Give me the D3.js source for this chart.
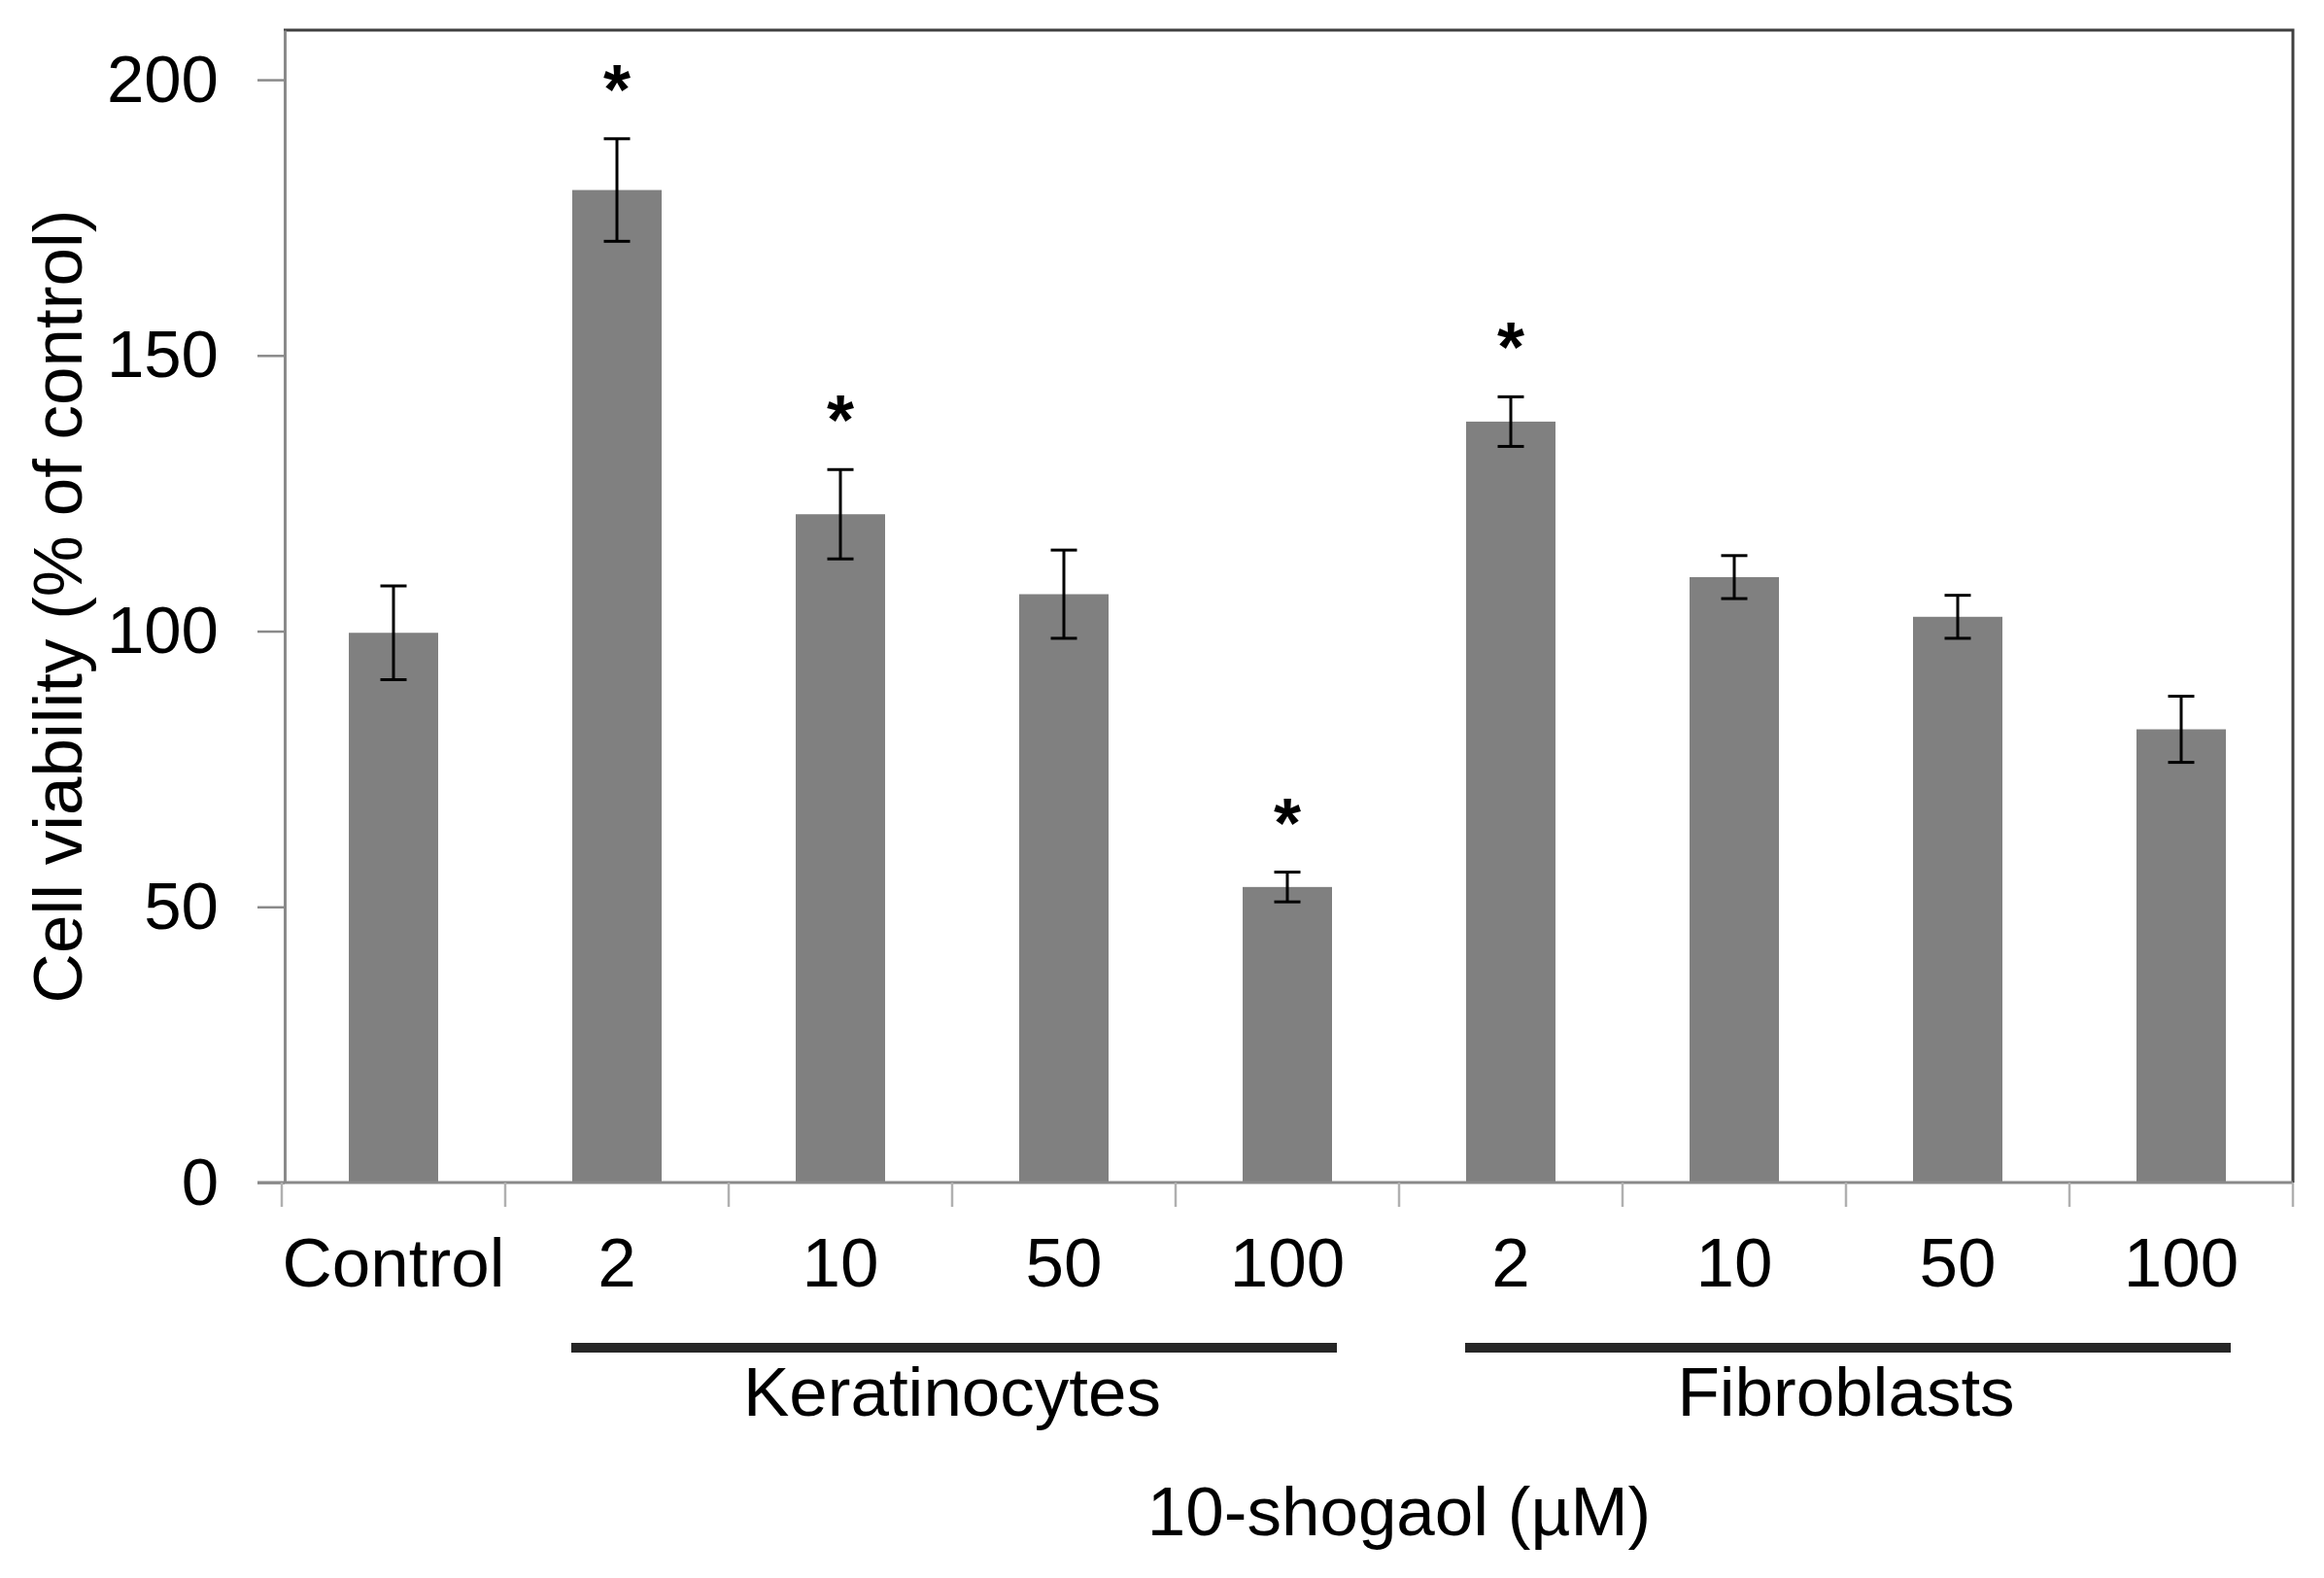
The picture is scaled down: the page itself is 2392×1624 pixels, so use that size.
<!DOCTYPE html>
<html>
<head>
<meta charset="utf-8">
<script src="https://cdn.jsdelivr.net/npm/d3@7"></script>
<style>
  body { margin: 0; background: #fff; }
  svg { display: block; font-family: 'Liberation Sans', Arial, sans-serif; }
</style>
</head>
<body>
<svg id="chart"></svg>
<script>
const colours = {
  bar: '#808080',
  axis: '#8a8a8a',
  frame: '#404040',
  error: '#000000',
  bracket: '#262626',
  text: '#000000',
};

// data
const categories = ['Control', '2', '10', '50', '100', '2', '10', '50', '100'];
const viability = [99.7, 180, 121.2, 106.7, 53.6, 138, 109.8, 102.6, 82.2];
const stdErr = [8.5, 9.3, 8.1, 8.0, 2.7, 4.5, 3.9, 3.9, 6.0];
const significant = [false, true, true, false, true, true, false, false, false];
const groupNames = ['Keratinocytes', 'Fibroblasts'];
const groupFirst = [1, 5];
const groupLast = [4, 8];
const yTicks = [0, 50, 100, 150, 200];

const width = 2392;
const height = 1624;
const margin = { left: 290, right: 32, top: 31, bottom: 407 };

const sel = d3.select('#chart').attr('width', width).attr('height', height);

const xScale = d3
  .scaleBand()
  .domain(d3.range(categories.length))
  .range([margin.left, width - margin.right]);
const yScale = d3
  .scaleLinear()
  .domain([0, 209])
  .range([height - margin.bottom, margin.top]);

const bw = xScale.bandwidth();
const barW = bw * 0.4;
const capW = 27;
const y0 = yScale(0);
const yTop = yScale.range()[1];
const xEnd = xScale.range()[1];

// frame: top and right sides dark
sel.append('path')
  .attr('d', `M${margin.left + 2},${yTop}H${xEnd}V${y0}`)
  .attr('fill', 'none')
  .attr('stroke', colours.frame)
  .attr('stroke-width', 3);

// bars
sel.append('g')
  .selectAll('rect')
  .data(viability)
  .join('rect')
  .attr('x', (d, i) => xScale(i) + (bw - barW) / 2)
  .attr('width', barW)
  .attr('y', d => yScale(d))
  .attr('height', d => y0 - yScale(d))
  .attr('fill', colours.bar);

// y axis
const yAxis = sel.append('g')
  .attr('transform', `translate(${margin.left + 3},0)`)
  .call(d3.axisLeft(yScale).tickValues(yTicks).tickSize(28).tickPadding(40).tickSizeOuter(0));
yAxis.select('.domain').attr('stroke', colours.axis).attr('stroke-width', 3);
yAxis.selectAll('.tick line').attr('stroke', colours.axis).attr('stroke-width', 2.5);
yAxis.selectAll('.tick text')
  .attr('font-size', 69)
  .attr('fill', colours.text)
  .attr('font-family', "'Liberation Sans', Arial, sans-serif");

// x axis line and category boundary ticks
const xg = sel.append('g');
xg.append('line')
  .attr('x1', margin.left - 25)
  .attr('x2', xEnd)
  .attr('y1', y0)
  .attr('y2', y0)
  .attr('stroke', colours.axis)
  .attr('stroke-width', 3);
xg.selectAll('.xtick')
  .data(d3.range(categories.length + 1))
  .join('line')
  .classed('xtick', true)
  .attr('x1', i => (i < categories.length ? xScale(i) : xEnd))
  .attr('x2', i => (i < categories.length ? xScale(i) : xEnd))
  .attr('y1', y0)
  .attr('y2', y0 + 25)
  .attr('stroke', '#b0b0b0')
  .attr('stroke-width', 2.5);

xg.selectAll('.xlabel')
  .data(categories)
  .join('text')
  .classed('xlabel', true)
  .attr('x', (d, i) => xScale(i) + bw / 2)
  .attr('y', y0 + 107)
  .attr('text-anchor', 'middle')
  .attr('font-size', 71)
  .attr('fill', colours.text)
  .text(d => d);

// error bars
const errG = sel.append('g')
  .selectAll('g')
  .data(viability.map((v, i) => ({ v, e: stdErr[i], i })))
  .join('g')
  .attr('stroke', colours.error)
  .attr('stroke-width', 3);
errG.append('line')
  .attr('x1', d => xScale(d.i) + bw / 2)
  .attr('x2', d => xScale(d.i) + bw / 2)
  .attr('y1', d => yScale(d.v + d.e))
  .attr('y2', d => yScale(d.v - d.e));
errG.append('line')
  .attr('x1', d => xScale(d.i) + bw / 2 - capW / 2)
  .attr('x2', d => xScale(d.i) + bw / 2 + capW / 2)
  .attr('y1', d => yScale(d.v + d.e))
  .attr('y2', d => yScale(d.v + d.e));
errG.append('line')
  .attr('x1', d => xScale(d.i) + bw / 2 - capW / 2)
  .attr('x2', d => xScale(d.i) + bw / 2 + capW / 2)
  .attr('y1', d => yScale(d.v - d.e))
  .attr('y2', d => yScale(d.v - d.e));

// significance stars
sel.append('g')
  .selectAll('text')
  .data(viability.map((v, i) => ({ v, e: stdErr[i], i })).filter(d => significant[d.i]))
  .join('text')
  .attr('x', d => xScale(d.i) + bw / 2)
  .attr('y', d => yScale(d.v + d.e) - 26)
  .attr('text-anchor', 'middle')
  .attr('font-size', 72)
  .attr('font-weight', 'bold')
  .attr('fill', colours.text)
  .text('*');

// group brackets
const grp = sel.append('g')
  .selectAll('g')
  .data(groupNames.map((name, k) => ({ name, a: groupFirst[k], b: groupLast[k] })))
  .join('g');
grp.append('line')
  .attr('x1', d => xScale(d.a) + bw / 2 - 47)
  .attr('x2', d => xScale(d.b) + bw / 2 + 51)
  .attr('y1', y0 + 170)
  .attr('y2', y0 + 170)
  .attr('stroke', colours.bracket)
  .attr('stroke-width', 10);
grp.append('text')
  .attr('x', d => (xScale(d.a) + xScale(d.b) + bw) / 2)
  .attr('y', y0 + 240)
  .attr('text-anchor', 'middle')
  .attr('font-size', 71)
  .attr('fill', colours.text)
  .text(d => d.name);

// axis titles
sel.append('text')
  .attr('x', (xScale(1) + xEnd) / 2)
  .attr('y', y0 + 363)
  .attr('text-anchor', 'middle')
  .attr('font-size', 71)
  .attr('fill', colours.text)
  .text('10-shogaol (µM)');

sel.append('text')
  .attr('transform', `translate(84,${(y0 + yTop) / 2}) rotate(-90)`)
  .attr('text-anchor', 'middle')
  .attr('font-size', 71)
  .attr('fill', colours.text)
  .text('Cell viability (% of control)');
</script>
</body>
</html>
